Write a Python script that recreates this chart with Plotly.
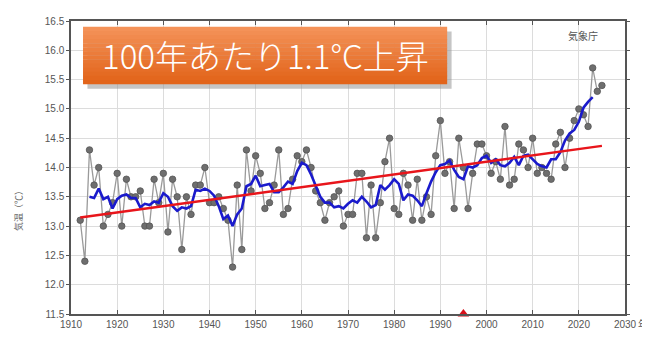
import numpy as np
import plotly.graph_objects as go

# ---- data ----
years = list(range(1912, 2026))
temps = [
    13.1, 12.4, 14.3, 13.7, 14.0, 13.0, 13.2, 13.4, 13.9,          # 1912-1920
    13.0, 13.8, 13.5, 13.5, 13.6, 13.0, 13.0, 13.8, 13.4, 13.9,    # 1921-1930
    12.9, 13.8, 13.5, 12.6, 13.5, 13.2, 13.7, 13.7, 14.0, 13.4,    # 1931-1940
    13.4, 13.5, 13.3, 13.1, 12.3, 13.7, 12.6, 14.3, 13.6, 14.2,    # 1941-1950
    13.9, 13.3, 13.4, 13.7, 14.3, 13.2, 13.3, 13.8, 14.2, 14.1,    # 1951-1960
    14.3, 14.0, 13.6, 13.4, 13.1, 13.4, 13.5, 13.6, 13.0, 13.2,    # 1961-1970
    13.2, 13.9, 13.9, 12.8, 13.7, 12.8, 13.4, 14.1, 14.5, 13.3,    # 1971-1980
    13.2, 13.9, 13.7, 13.1, 13.8, 13.1, 13.5, 13.2, 14.2, 14.8,    # 1981-1990
    13.9, 14.1, 13.3, 14.5, 14.0, 13.3, 13.9, 14.4, 14.4, 14.2,    # 1991-2000
    13.9, 14.1, 13.8, 14.7, 13.7, 13.8, 14.4, 14.3, 14.0, 14.5,    # 2001-2010
    13.9, 14.0, 13.9, 13.8, 14.4, 14.6, 14.0, 14.5, 14.8, 15.0,    # 2011-2020
    14.9, 14.7, 15.7, 15.3, 15.4,                                  # 2021-2025
]
relocation_year = [1995]
x_ticks = list(range(1910, 2031, 10))
y_ticks = [11.5, 12.0, 12.5, 13.0, 13.5, 14.0, 14.5, 15.0, 15.5, 16.0, 16.5]
y_ticklabels = [f"{v:.1f}" for v in y_ticks]
title_text = "100年あたり1.1°C上昇"
y_title = "気温（℃）"
source_text = "気象庁"
x_unit = "年"

yrs = np.array(years, dtype=float)
t = np.array(temps)

# 5-year running mean (centered)
ma = np.convolve(t, np.ones(5) / 5, mode="valid")
ma_years = yrs[2:-2]

# long-term linear trend
coef = np.polyfit(yrs, t, 1)
trend = np.polyval(coef, yrs)

fig = go.Figure()
fig.add_trace(go.Scatter(
    x=years, y=temps, mode="lines+markers",
    line=dict(color="#9a9a9a", width=1.3),
    marker=dict(size=6.5, color="#6e6e6e", line=dict(color="#555555", width=0.8)),
    hoverinfo="skip", showlegend=False))
fig.add_trace(go.Scatter(
    x=ma_years, y=ma, mode="lines",
    line=dict(color="#1a1acc", width=2.6), showlegend=False))
fig.add_trace(go.Scatter(
    x=yrs, y=trend, mode="lines",
    line=dict(color="#e8151b", width=2.4), showlegend=False))
fig.add_trace(go.Scatter(
    x=relocation_year, y=[11.5], mode="markers",
    marker=dict(symbol="triangle-up", size=10, color="#d8101a"),
    cliponaxis=False, showlegend=False))

# orange title box with shadow and vertical gradient
bx0, bx1, by0, by1 = 0.0217, 0.679, 0.785, 0.980
shapes = [dict(type="rect", xref="paper", yref="paper",
               x0=bx0 + 0.008, x1=bx1 + 0.008, y0=by0 - 0.016, y1=by1 - 0.016,
               line=dict(width=0), fillcolor="rgba(150,150,150,0.55)", layer="above")]
top = np.array([244, 146, 88])
bot = np.array([226, 100, 26])
n = 14
for i in range(n):
    f = i / (n - 1)
    c = top * (1 - f) + bot * f
    ya = by1 - (by1 - by0) * i / n
    yb = by1 - (by1 - by0) * (i + 1) / n
    shapes.append(dict(type="rect", xref="paper", yref="paper",
                       x0=bx0, x1=bx1, y0=yb - 0.001, y1=ya,
                       line=dict(width=0),
                       fillcolor=f"rgb({int(c[0])},{int(c[1])},{int(c[2])})",
                       layer="above"))

fig.update_layout(
    width=642, height=329,
    margin=dict(l=63, r=25, t=7, b=19),
    paper_bgcolor="white", plot_bgcolor="white",
    font=dict(family="Liberation Sans, Arial, sans-serif", color="#555555", size=10),
    shapes=shapes,
    annotations=[
        dict(text=title_text, xref="paper", yref="paper",
             x=(bx0 + bx1) / 2, y=(by0 + by1) / 2, xanchor="center", yanchor="middle",
             showarrow=False,
             font=dict(family="Noto Sans CJK JP", size=33, color="white", weight=300)),
        dict(text=source_text, xref="paper", yref="paper", x=0.955, y=0.95,
             xanchor="right", yanchor="middle", showarrow=False,
             font=dict(family="Noto Sans CJK JP", size=10, color="#555555")),
        dict(text=y_title, xref="paper", yref="paper", x=-0.095, y=0.36,
             xanchor="center", yanchor="middle", textangle=-90, showarrow=False,
             font=dict(family="Noto Sans CJK JP", size=9, color="#666666")),
        dict(text=x_unit, xref="paper", yref="paper", x=1.044, y=-0.033,
             xanchor="right", yanchor="middle", showarrow=False, borderpad=0,
             font=dict(family="Noto Sans CJK JP", size=10, color="#555555")),
    ],
)
fig.update_xaxes(
    range=[1910, 2030], tickvals=x_ticks,
    showgrid=True, gridcolor="#dcdcdc", gridwidth=1,
    showline=True, linecolor="#555555", linewidth=1.5, mirror="ticks",
    ticks="inside", ticklen=4, tickcolor="#555555",
    tickfont=dict(size=10, color="#555555"), zeroline=False)
fig.update_yaxes(
    range=[11.5, 16.5], tickvals=y_ticks, ticktext=y_ticklabels,
    showgrid=True, gridcolor="#dcdcdc", gridwidth=1,
    showline=True, linecolor="#555555", linewidth=1.5, mirror="ticks",
    ticks="outside", ticklen=3, tickcolor="#555555",
    tickfont=dict(size=10, color="#555555"), zeroline=False)

fig.write_html("out.html")
